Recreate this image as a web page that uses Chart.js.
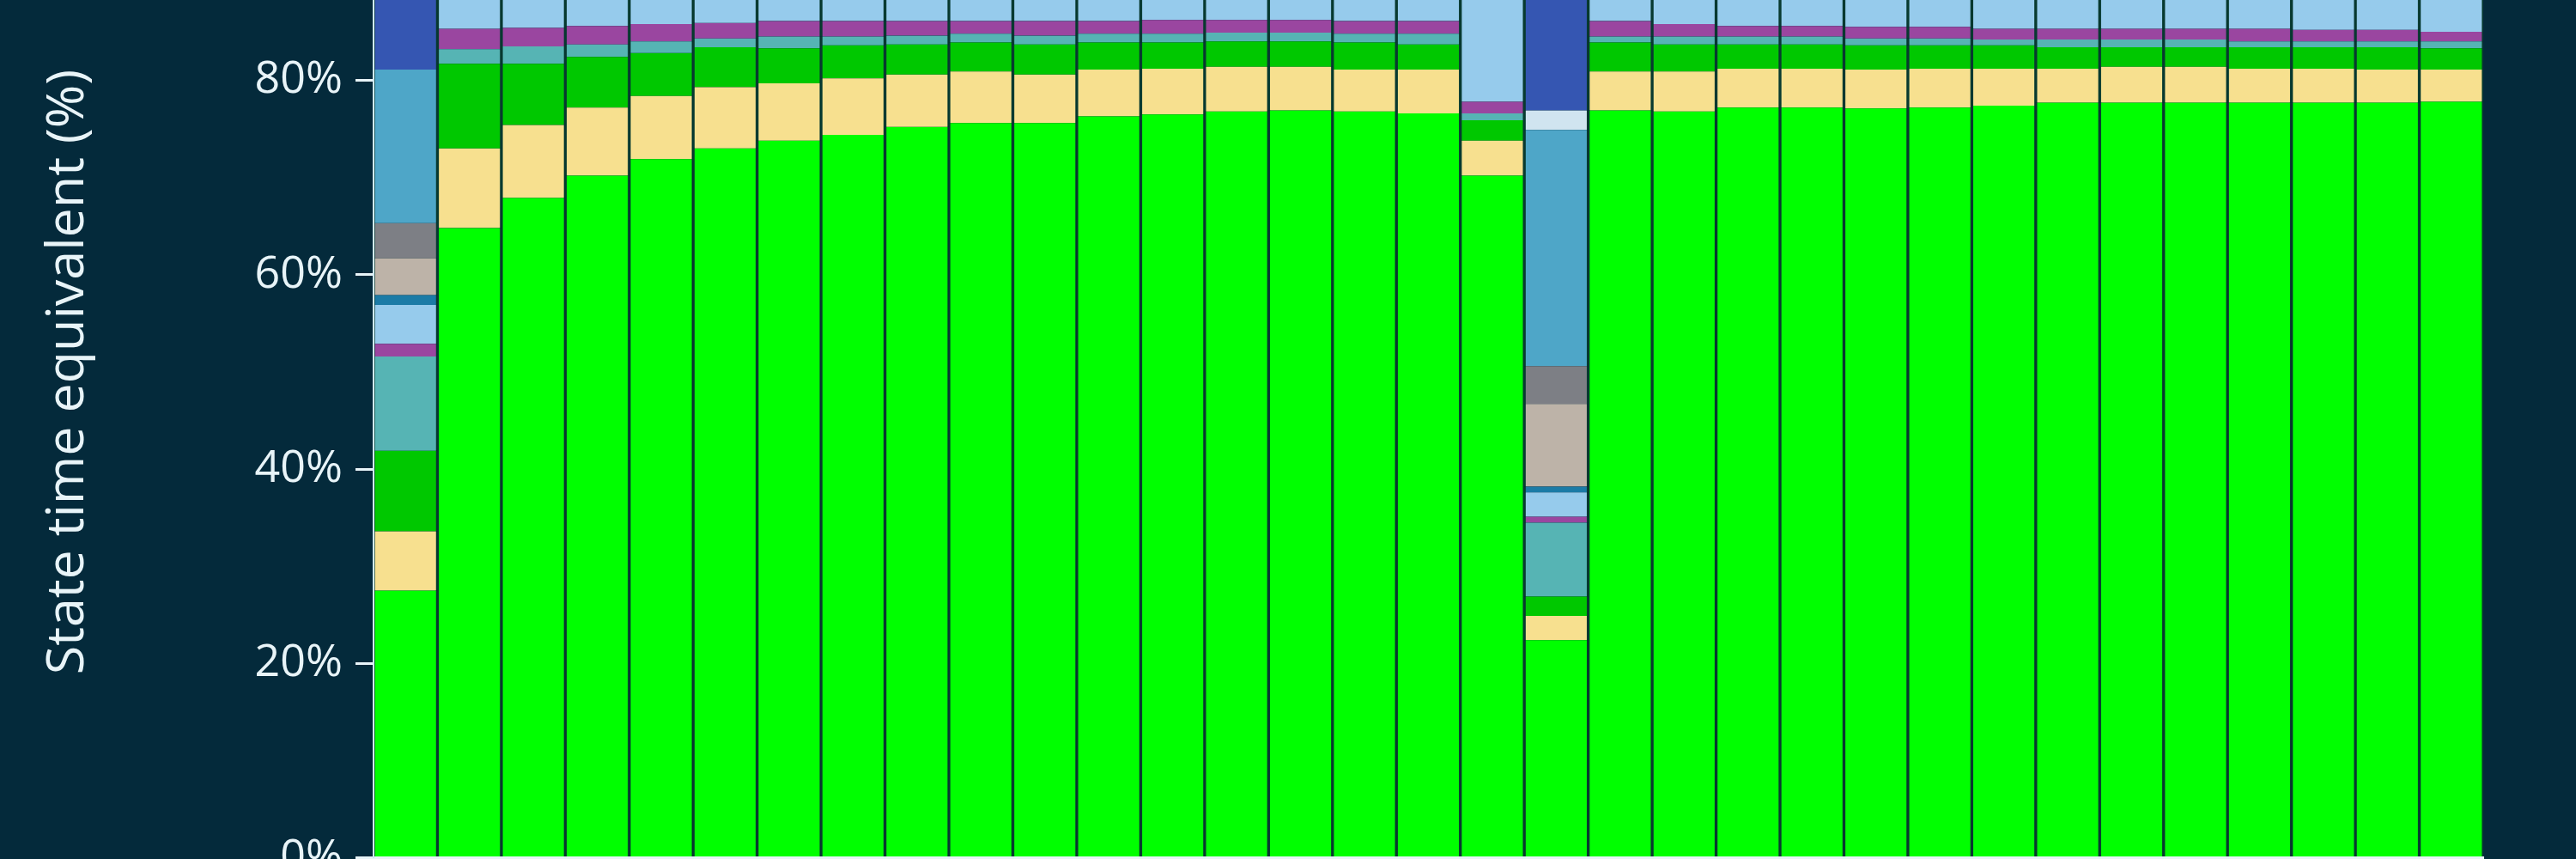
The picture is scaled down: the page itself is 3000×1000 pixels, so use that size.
<!DOCTYPE html>
<html>
<head>
<meta charset="utf-8">
<script src="https://cdn.jsdelivr.net/npm/chart.js@4"></script>
<style>
  html, body { margin: 0; padding: 0; width: 3000px; height: 1000px; overflow: hidden; background: #042a3b; }
  #wrap { position: absolute; left: 0; top: -179px; width: 3000px; height: 1224px; }
  canvas { display: block; }
</style>
</head>
<body>
<div id="wrap"><canvas id="c" width="3000" height="1224"></canvas></div>
<script>
const categories = ["1","2","3","4","5","6","7","8","9","10","11","12","13","14","15","16","17","18","19","20","21","22","23","24","25","26","27","28","29","30","31","32","33"];
const yTicks = [0, 20, 40, 60, 80, 100];

const green     = [27.5, 64.8, 67.9, 70.2, 71.9, 73.0, 73.8, 74.4, 75.2, 75.6, 75.6, 76.3, 76.5, 76.8, 76.9, 76.8, 76.6, 70.2, 22.4, 76.9, 76.8, 77.2, 77.2, 77.1, 77.2, 77.4, 77.7, 77.7, 77.7, 77.7, 77.7, 77.7, 77.8];
const yellow    = [6.1, 8.2, 7.5, 7.0, 6.5, 6.3, 5.9, 5.8, 5.4, 5.3, 5.0, 4.8, 4.7, 4.6, 4.5, 4.3, 4.5, 3.6, 2.5, 4.0, 4.1, 4.0, 4.0, 4.0, 4.0, 3.8, 3.5, 3.7, 3.7, 3.5, 3.5, 3.4, 3.3];
const medGreen  = [8.3, 8.7, 6.3, 5.2, 4.4, 4.1, 3.6, 3.4, 3.1, 3.0, 3.1, 2.8, 2.7, 2.6, 2.6, 2.8, 2.6, 2.1, 2.0, 3.0, 2.8, 2.5, 2.5, 2.5, 2.4, 2.4, 2.2, 2.0, 2.0, 2.2, 2.2, 2.3, 2.2];
const teal      = [9.7, 1.5, 1.8, 1.3, 1.2, 0.9, 1.2, 0.9, 0.9, 0.9, 0.9, 0.9, 0.9, 0.9, 0.9, 0.9, 1.1, 0.7, 7.6, 0.6, 0.8, 0.8, 0.8, 0.7, 0.7, 0.6, 0.8, 0.8, 0.8, 0.6, 0.6, 0.6, 0.7];
const purple    = [1.3, 2.1, 1.9, 1.9, 1.8, 1.6, 1.6, 1.6, 1.5, 1.3, 1.5, 1.3, 1.4, 1.3, 1.3, 1.3, 1.3, 1.2, 0.6, 1.6, 1.3, 1.1, 1.1, 1.2, 1.2, 1.1, 1.1, 1.1, 1.1, 1.3, 1.2, 1.2, 1.0];
const lightBlue = [4.0, 14.7, 14.6, 14.4, 14.2, 14.1, 13.9, 13.9, 13.9, 13.9, 13.9, 13.9, 13.8, 13.8, 13.8, 13.9, 13.9, 22.2, 2.5, 13.9, 14.2, 14.4, 14.4, 14.5, 14.5, 14.7, 14.7, 14.7, 14.7, 14.7, 14.8, 14.8, 15.0];
const blueLine  = [1.0, 0, 0, 0, 0, 0, 0, 0, 0, 0, 0, 0, 0, 0, 0, 0, 0, 0, 0.6, 0, 0, 0, 0, 0, 0, 0, 0, 0, 0, 0, 0, 0, 0];
const tan       = [3.8, 0, 0, 0, 0, 0, 0, 0, 0, 0, 0, 0, 0, 0, 0, 0, 0, 0, 8.5, 0, 0, 0, 0, 0, 0, 0, 0, 0, 0, 0, 0, 0, 0];
const gray      = [3.6, 0, 0, 0, 0, 0, 0, 0, 0, 0, 0, 0, 0, 0, 0, 0, 0, 0, 3.9, 0, 0, 0, 0, 0, 0, 0, 0, 0, 0, 0, 0, 0, 0];
const steelBlue = [15.8, 0, 0, 0, 0, 0, 0, 0, 0, 0, 0, 0, 0, 0, 0, 0, 0, 0, 24.3, 0, 0, 0, 0, 0, 0, 0, 0, 0, 0, 0, 0, 0, 0];
const lavender  = [0, 0, 0, 0, 0, 0, 0, 0, 0, 0, 0, 0, 0, 0, 0, 0, 0, 0, 2.0, 0, 0, 0, 0, 0, 0, 0, 0, 0, 0, 0, 0, 0, 0];
const darkBlue  = [18.9, 0, 0, 0, 0, 0, 0, 0, 0, 0, 0, 0, 0, 0, 0, 0, 0, 0, 23.1, 0, 0, 0, 0, 0, 0, 0, 0, 0, 0, 0, 0, 0, 0];

const series = [
  { label: "State A", data: green,     color: "#00ff00" },
  { label: "State B", data: yellow,    color: "#f7e08f" },
  { label: "State C", data: medGreen,  color: "#00c800" },
  { label: "State D", data: teal,      color: "#56b4b4" },
  { label: "State E", data: purple,    color: "#9a46a0" },
  { label: "State F", data: lightBlue, color: "#96cbec" },
  { label: "State G", data: blueLine,  color: "#1b7ba6" },
  { label: "State H", data: tan,       color: "#bdb3a8" },
  { label: "State I", data: gray,      color: "#7d7f85" },
  { label: "State J", data: steelBlue, color: "#4ea6c8" },
  { label: "State K", data: lavender,  color: "#d0e4f0" },
  { label: "State L", data: darkBlue,  color: "#3556b2" }
];

const textColor = "#e8f4f8";

new Chart(document.getElementById("c"), {
  type: "bar",
  data: {
    labels: categories,
    datasets: series.map(s => ({
      label: s.label,
      data: s.data,
      backgroundColor: s.color,
      borderColor: "#083a30",
      borderWidth: { left: 2, right: 2, top: 0, bottom: 0 },
      borderSkipped: false,
      barPercentage: 1,
      categoryPercentage: 1
    }))
  },
  options: {
    responsive: false,
    animation: false,
    devicePixelRatio: 1,
    layout: { padding: { left: 0, right: 108, top: 38, bottom: 34 } },
    plugins: { legend: { display: false }, tooltip: { enabled: false } },
    scales: {
      x: {
        stacked: true,
        grid: { display: false, drawTicks: false },
        ticks: { display: false },
        border: { display: true, color: textColor, width: 3, z: 1 }
      },
      y: {
        stacked: true,
        min: 0,
        max: 100,
        afterBuildTicks: (scale) => { scale.ticks = yTicks.map(v => ({ value: v })); },
        afterFit: (scale) => { scale.width = 435; },
        grid: { drawOnChartArea: false, drawTicks: true, tickLength: 21, tickWidth: 3, tickColor: textColor },
        border: { display: true, color: "#cfe9f2", width: 2, z: 1 },
        ticks: {
          color: textColor,
          padding: 15,
          font: { family: "Open Sans", size: 52 },
          callback: (v) => v + "%"
        },
        title: {
          display: true,
          text: "State time equivalent (%)",
          color: textColor,
          font: { family: "Open Sans", size: 61 },
          padding: { top: 43, bottom: 0 }
        }
      }
    }
  }
});
</script>
</body>
</html>
